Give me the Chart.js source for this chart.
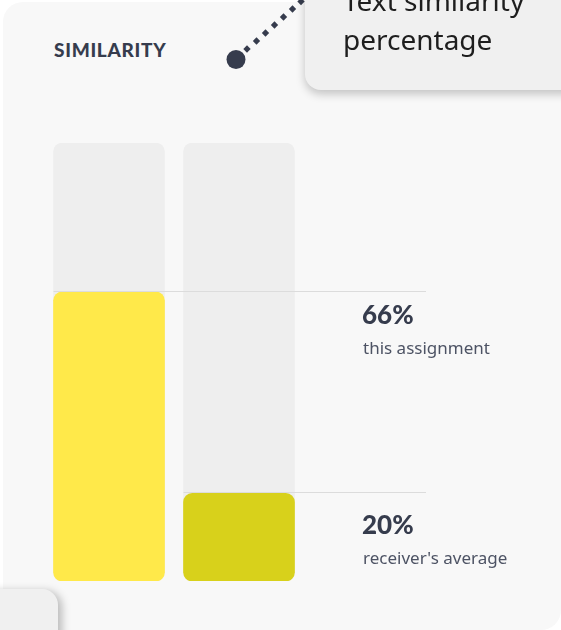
<!DOCTYPE html>
<html>
<head>
<meta charset="utf-8">
<script src="https://cdn.jsdelivr.net/npm/chart.js@4.4.1/dist/chart.umd.min.js"></script>
<style>
  html, body { margin: 0; padding: 0; width: 561px; height: 630px; overflow: hidden; background: #ffffff; }
  #cardR { position: absolute; left: 3px; top: 2px; width: 558px; height: 628px; background: #f8f8f8; border-radius: 20px; }
  #title { position: absolute; left: 54px; top: 37px; font-family: Lato, sans-serif; font-weight: 900; font-size: 19px; letter-spacing: 0.7px; color: #363c4d; line-height: 26px; }
  #chart { position: absolute; left: 0; top: 0; }
  #callout { position: absolute; left: 305px; top: -58px; width: 300px; height: 148px; background: #f0f0f0; border-radius: 16px; box-shadow: 0 4px 10px rgba(0,0,0,0.22); }
  #callout div { position: absolute; left: 38px; top: 39px; font-family: "Noto Sans", "Open Sans", sans-serif; font-size: 28px; line-height: 39px; color: #1e1e1e; }
  #corner { position: absolute; left: -30px; top: 589px; width: 88px; height: 80px; background: #f0f0f0; border-radius: 16px; box-shadow: 4px 2px 8px rgba(0,0,0,0.25); }
</style>
</head>
<body>
<div id="cardR"></div>
<div id="title">SIMILARITY</div>
<canvas id="chart" width="561" height="630"></canvas>
<div id="callout"><div>Text similarity<br>percentage</div></div>
<div id="corner"></div>
<script>
const categories = ["this assignment", "receiver's average"];
const values = [66, 20];
const fullValues = [100, 100];
const barColors = ["#ffe94a", "#d8d11b"];
const trackColors = ["#eeeeee", "#eeeeee"];

const annotatePlugin = {
  id: 'annotate',
  afterDatasetsDraw(chart) {
    const ctx = chart.ctx;
    const y = chart.scales.y;
    const meta = chart.getDatasetMeta(0);
    ctx.save();
    values.forEach((v, i) => {
      const el = meta.data[i];
      const py = Math.round(y.getPixelForValue(v)) - 0.5;
      const left = el.x - el.width / 2;
      ctx.strokeStyle = '#dcdcdc';
      ctx.lineWidth = 1;
      ctx.beginPath();
      ctx.moveTo(left, py);
      ctx.lineTo(426, py);
      ctx.stroke();
      const off = i === 0 ? 0 : 9;
      ctx.textBaseline = 'middle';
      ctx.textAlign = 'left';
      ctx.fillStyle = '#363c4d';
      ctx.font = '900 26px Lato, sans-serif';
      ctx.fillText(v + '%', 362, py + 24 + off);
      ctx.fillStyle = '#4d5364';
      ctx.font = '17px "Noto Sans", sans-serif';
      ctx.fillText(categories[i], 363, py + 58 + off);
    });
    // connector from title area to callout
    ctx.fillStyle = '#363c4d';
    ctx.beginPath();
    ctx.arc(236, 59.5, 9.5, 0, Math.PI * 2);
    ctx.fill();
    const dots = [[247, 49], [256.5, 41], [265.5, 33], [274.5, 25], [283.5, 17], [292.5, 9], [301, 1.5]];
    dots.forEach(([dx, dy]) => {
      ctx.save();
      ctx.translate(dx, dy);
      ctx.rotate(Math.PI / 4);
      ctx.fillRect(-2.6, -2.6, 5.2, 5.2);
      ctx.restore();
    });
    ctx.restore();
  }
};

new Chart(document.getElementById('chart'), {
  type: 'bar',
  data: {
    labels: categories,
    datasets: [
      { data: values, backgroundColor: barColors, borderRadius: 9, borderSkipped: false, grouped: false, barThickness: 111, order: 0 },
      { data: fullValues, backgroundColor: trackColors, borderRadius: 9, borderSkipped: false, grouped: false, barThickness: 111, order: 1 }
    ]
  },
  options: {
    responsive: false,
    animation: false,
    devicePixelRatio: 1,
    layout: { padding: { left: 44, right: 257, top: 143, bottom: 49 } },
    plugins: { legend: { display: false }, tooltip: { enabled: false } },
    scales: {
      x: { display: false, grid: { display: false } },
      y: { display: false, min: 0, max: 100, grid: { display: false } }
    }
  },
  plugins: [annotatePlugin]
});
</script>
</body>
</html>
